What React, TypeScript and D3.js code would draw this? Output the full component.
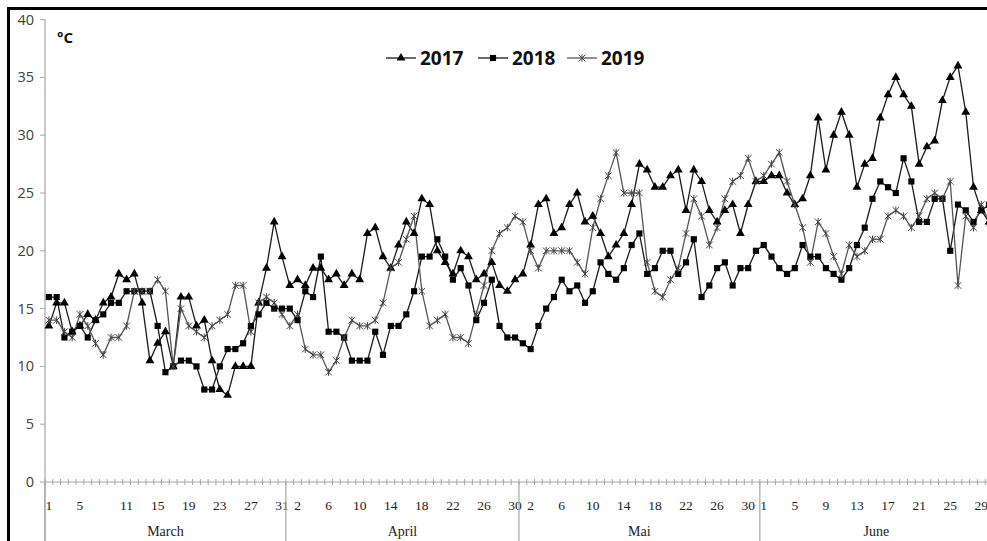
import React, { useEffect, useRef } from 'react';
import * as d3 from 'd3';

const months = ['March', 'April', 'Mai', 'June'];
const monthDays = [31, 30, 31, 30];
const dayLabels = [
  [1, 5, 11, 15, 19, 23, 27, 31],
  [2, 6, 10, 14, 18, 22, 26, 30],
  [2, 6, 10, 14, 18, 22, 26, 30],
  [1, 5, 9, 13, 17, 21, 25, 29],
];
const yTicks = [0, 5, 10, 15, 20, 25, 30, 35, 40];

// daily temperature, °C (March -> June)
const t2017 = [
  13.5, 15.5, 15.5, 13, 13.5, 14.5, 14, 15.5, 16, 18, 17.5, 18, 15.5, 10.5, 12, 13, 10, 16, 16, 13.5, 14, 10.5, 8, 7.5, 10, 10, 10, 15.5, 18.5, 22.5, 19.5,
  17, 17.5, 17, 18.5, 18.5, 17.5, 18, 17, 18, 17.5, 21.5, 22, 19.5, 18.5, 20.5, 22.5, 21.5, 24.5, 24, 20, 19, 18, 20, 19.5, 17.5, 18, 19, 17, 16.5, 17.5,
  18, 20.5, 24, 24.5, 21.5, 22, 24, 25, 22.5, 23, 21.5, 19.5, 20.5, 21.5, 24, 27.5, 27, 25.5, 25.5, 26.5, 27, 23.5, 27, 26, 23.5, 22.5, 23.5, 24, 21.5, 24, 26,
  26, 26.5, 26.5, 25, 24, 24.5, 26.5, 31.5, 27, 30, 32, 30, 25.5, 27.5, 28, 31.5, 33.5, 35, 33.5, 32.5, 27.5, 29, 29.5, 33, 35, 36, 32, 25.5, 23.5, 22.5,
];
const t2018 = [
  16, 16, 12.5, 13, 13.5, 12.5, 14, 14.5, 15.5, 15.5, 16.5, 16.5, 16.5, 16.5, 13.5, 9.5, 10, 10.5, 10.5, 10, 8, 8, 10, 11.5, 11.5, 12, 13.5, 14.5, 15.5, 15, 15,
  15, 14, 16.5, 16, 19.5, 13, 13, 12.5, 10.5, 10.5, 10.5, 13, 11, 13.5, 13.5, 14.5, 16.5, 19.5, 19.5, 21, 19.5, 17.5, 18.5, 17, 14, 15.5, 17.5, 13.5, 12.5, 12.5,
  12, 11.5, 13.5, 15, 16, 17.5, 16.5, 17, 15.5, 16.5, 19, 18, 17.5, 18.5, 20.5, 21.5, 18, 18.5, 20, 20, 18, 19, 21, 16, 17, 18.5, 19, 17, 18.5, 18.5, 20,
  20.5, 19.5, 18.5, 18, 18.5, 20.5, 19.5, 19.5, 18.5, 18, 17.5, 18.5, 20.5, 22, 24.5, 26, 25.5, 25, 28, 26, 22.5, 22.5, 24.5, 24.5, 20, 24, 23.5, 22.5, 23.5, 24,
];
const t2019 = [
  14, 14, 13, 12.5, 14.5, 13.5, 12, 11, 12.5, 12.5, 13.5, 16.5, 16.5, 16.5, 17.5, 16.5, 10, 15, 13.5, 13, 12.5, 13.5, 14, 14.5, 17, 17, 13, 15.5, 16, 15.5, 14.5,
  13.5, 14.5, 11.5, 11, 11, 9.5, 10.5, 12.5, 14, 13.5, 13.5, 14, 15.5, 18.5, 19, 21, 23, 16.5, 13.5, 14, 14.5, 12.5, 12.5, 12, 14.5, 17, 20, 21.5, 22, 23,
  22.5, 20, 18.5, 20, 20, 20, 20, 19, 18, 22, 24.5, 26.5, 28.5, 25, 25, 25, 19, 16.5, 16, 17.5, 18.5, 21.5, 24.5, 23, 20.5, 22, 24.5, 26, 26.5, 28, 26,
  26.5, 27.5, 28.5, 26, 24, 22, 19, 22.5, 21.5, 19.5, 18, 20.5, 19.5, 20, 21, 21, 23, 23.5, 23, 22, 23, 24.5, 25, 24.5, 26, 17, 23, 22, 24, 22.5,
];

type Marker = 'triangle' | 'square' | 'star';

const series: { name: string; values: number[]; marker: Marker; color: string }[] = [
  { name: '2017', values: t2017, marker: 'triangle', color: '#1a1a1a' },
  { name: '2018', values: t2018, marker: 'square', color: '#1a1a1a' },
  { name: '2019', values: t2019, marker: 'star', color: '#555' },
];

const drawMarker = (g: d3.Selection<SVGGElement, unknown, null, undefined>, type: Marker, px: number, py: number) => {
  if (type === 'triangle') {
    g.append('path')
      .attr('d', d3.symbol(d3.symbolTriangle, 34)())
      .attr('transform', `translate(${px},${py})`)
      .attr('fill', '#000');
  } else if (type === 'square') {
    g.append('path')
      .attr('d', d3.symbol(d3.symbolSquare, 38)())
      .attr('transform', `translate(${px},${py})`)
      .attr('fill', '#000');
  } else {
    const s = 3.3;
    g.append('path')
      .attr('d', `M${-s},${-s}L${s},${s}M${-s},${s}L${s},${-s}M0,${-s - 0.5}L0,${s + 0.5}`)
      .attr('transform', `translate(${px},${py})`)
      .attr('fill', 'none')
      .attr('stroke', '#444')
      .attr('stroke-width', 1);
  }
};

const App: React.FC = () => {
  const svgRef = useRef<SVGSVGElement>(null);

  useEffect(() => {
    if (!svgRef.current) return;
    const svg = d3.select(svgRef.current);
    svg.selectAll('*').remove();

    const band = 7.77;
    const left = 45;
    const n = d3.sum(monthDays);
    const x = d3.scaleBand<number>().domain(d3.range(n)).range([left, left + band * n]).padding(0);
    const cx = (i: number) => (x(i) as number) + x.bandwidth() / 2;
    const y = d3.scaleLinear().domain([0, 40]).range([482, 19.6]);
    const starts = monthDays.map((_, m) => d3.sum(monthDays.slice(0, m)));

    // y axis
    svg.append('line')
      .attr('x1', left).attr('x2', left)
      .attr('y1', y(40)).attr('y2', 541)
      .attr('stroke', '#a6a6a6').attr('stroke-width', 1.2);

    const yAxis = svg.append('g');
    yTicks.forEach(t => {
      yAxis.append('line')
        .attr('x1', left - 5).attr('x2', left)
        .attr('y1', y(t)).attr('y2', y(t))
        .attr('stroke', '#a6a6a6');
      yAxis.append('text')
        .attr('x', 34).attr('y', y(t))
        .attr('dy', '0.35em')
        .attr('text-anchor', 'end')
        .attr('font-family', '"Open Sans", sans-serif')
        .attr('font-size', 14.5)
        .attr('fill', '#404040')
        .text(t);
    });

    // x axis line with a tick on every day
    svg.append('line')
      .attr('x1', left).attr('x2', left + band * n)
      .attr('y1', y(0)).attr('y2', y(0))
      .attr('stroke', '#a6a6a6').attr('stroke-width', 1.2);
    svg.append('g')
      .selectAll('line')
      .data(d3.range(n + 1))
      .enter()
      .append('line')
      .attr('x1', i => left + i * band)
      .attr('x2', i => left + i * band)
      .attr('y1', y(0) - 3)
      .attr('y2', y(0) + 3)
      .attr('stroke', '#a6a6a6');

    // month separators + labels
    const xAxis = svg.append('g');
    months.forEach((m, k) => {
      const s = starts[k];
      const xs = x(s) as number;
      xAxis.append('line')
        .attr('x1', xs).attr('x2', xs)
        .attr('y1', y(0)).attr('y2', 541)
        .attr('stroke', '#a6a6a6').attr('stroke-width', 1.2);
      dayLabels[k].forEach(d => {
        xAxis.append('text')
          .attr('x', cx(s + d - 1)).attr('y', 510)
          .attr('text-anchor', 'middle')
          .attr('font-family', '"Liberation Serif", serif')
          .attr('font-size', 13.5)
          .attr('fill', '#222')
          .text(d);
      });
      xAxis.append('text')
        .attr('x', (cx(s) + cx(s + monthDays[k] - 1)) / 2).attr('y', 536)
        .attr('text-anchor', 'middle')
        .attr('font-family', '"Liberation Serif", serif')
        .attr('font-size', 14)
        .attr('fill', '#222')
        .text(m);
    });

    // lines + markers
    const line = d3.line<number>().x((_, i) => cx(i)).y(v => y(v));
    series.forEach(s => {
      svg.append('path')
        .attr('d', line(s.values))
        .attr('fill', 'none')
        .attr('stroke', s.color)
        .attr('stroke-width', 1.3);
    });
    series.forEach(s => {
      const g = svg.append('g');
      s.values.forEach((v, i) => drawMarker(g, s.marker, cx(i), y(v)));
    });

    // unit label
    svg.append('text')
      .attr('x', 57).attr('y', 43)
      .attr('font-family', '"Open Sans", sans-serif')
      .attr('font-weight', 'bold')
      .attr('font-size', 15)
      .attr('fill', '#111')
      .text('°C');

    // legend
    const legend = svg.append('g');
    const legendX = [386, 478, 567];
    series.forEach((s, k) => {
      const lx = legendX[k];
      const ly = 58;
      legend.append('line')
        .attr('x1', lx).attr('x2', lx + 30)
        .attr('y1', ly).attr('y2', ly)
        .attr('stroke', s.color).attr('stroke-width', 1.3);
      drawMarker(legend, s.marker, lx + 15, ly);
      legend.append('text')
        .attr('x', lx + 34).attr('y', ly)
        .attr('dy', '0.36em')
        .attr('font-family', '"Open Sans", sans-serif')
        .attr('font-weight', 'bold')
        .attr('font-size', 19)
        .attr('fill', '#111')
        .text(s.name);
    });

    // outer frame
    svg.append('rect')
      .attr('x', 8.5).attr('y', 8.5)
      .attr('width', 1000).attr('height', 560)
      .attr('fill', 'none')
      .attr('stroke', '#000')
      .attr('stroke-width', 3);
  }, []);

  return (
    <svg
      ref={svgRef}
      width={987}
      height={541}
      style={{ position: 'absolute', left: 0, top: 0, background: '#fff' }}
    />
  );
};

export default App;
